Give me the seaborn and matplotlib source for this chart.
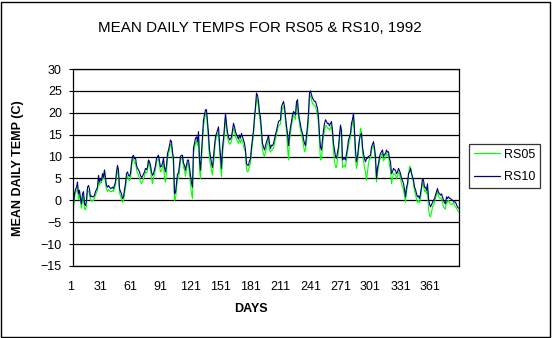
import numpy as np
import pandas as pd
import matplotlib
matplotlib.use("Agg")
import matplotlib.pyplot as plt
import seaborn as sns
from matplotlib.transforms import ScaledTranslation
from matplotlib.patches import Rectangle

# ---------------- data ----------------
rs10 = [
    -0.8, 1.5, 2.5, 3.0, 4.2, 1.5, 2.3, 0.5, -0.8, 1.5,
    2.0, -0.8, -1.2, 0.0, 3.0, 3.4, 2.5, 0.8, 1.0, 0.8,
    0.8, 1.2, 2.0, 2.5, 3.0, 5.7, 4.2, 5.0, 4.5, 6.1,
    5.3, 6.9, 5.0, 3.4, 3.0, 3.4, 3.0, 2.7, 2.8, 3.0,
    2.7, 3.5, 4.2, 6.5, 8.0, 6.9, 2.7, 2.0, 1.5, 0.4,
    0.8, 2.5, 3.8, 6.1, 6.5, 5.7, 5.5, 6.1, 8.5, 10.0,
    10.3, 9.5, 9.8, 8.0, 7.3, 7.0, 6.5, 5.7, 5.2, 5.5,
    6.0, 6.5, 7.3, 7.0, 7.5, 9.2, 8.8, 8.0, 6.5, 5.7,
    6.1, 7.0, 8.0, 9.6, 10.0, 10.3, 9.0, 7.6, 7.8, 8.5,
    9.6, 7.5, 6.5, 8.0, 10.7, 11.5, 12.5, 13.8, 13.4, 11.0,
    9.6, 1.5, 1.8, 4.0, 6.0, 6.2, 8.0, 10.0, 10.3, 10.3,
    8.5, 8.0, 6.9, 8.0, 9.2, 9.2, 7.5, 5.7, 4.0, 3.0,
    12.0, 13.0, 14.2, 14.5, 13.4, 15.7, 9.2, 6.9, 11.0, 14.5,
    18.4, 19.5, 20.7, 20.7, 18.0, 15.3, 11.5, 10.0, 8.5, 7.5,
    10.0, 12.5, 14.5, 15.3, 16.0, 16.8, 13.0, 10.0, 7.3, 12.2,
    14.0, 16.8, 19.9, 17.5, 15.5, 14.5, 13.8, 14.0, 14.5, 16.0,
    17.6, 16.8, 15.7, 15.0, 14.5, 14.0, 14.9, 14.2, 15.3, 14.5,
    13.8, 13.0, 11.5, 8.4, 8.0, 8.0, 9.0, 9.5, 12.2, 14.0,
    16.0, 19.0, 21.4, 24.5, 24.0, 22.6, 20.0, 19.0, 16.0, 13.0,
    12.2, 11.5, 12.5, 13.4, 14.0, 14.9, 13.0, 11.8, 12.6, 12.5,
    13.0, 14.0, 14.9, 16.0, 17.0, 18.0, 18.2, 18.4, 21.4, 22.0,
    22.6, 21.4, 19.1, 17.0, 15.3, 12.5, 15.0, 16.8, 18.0, 19.5,
    20.3, 20.0, 19.5, 22.5, 23.0, 20.0, 18.5, 17.2, 16.0, 15.3,
    14.0, 13.0, 12.5, 14.9, 17.0, 19.9, 24.5, 25.0, 24.1, 23.3,
    23.0, 22.6, 22.6, 21.8, 21.0, 19.0, 15.0, 12.2, 11.5, 14.0,
    16.0, 17.5, 18.4, 18.0, 17.5, 17.6, 17.0, 17.6, 18.0, 16.0,
    13.0, 11.5, 10.0, 9.6, 11.0, 12.2, 15.0, 17.2, 16.0, 9.2,
    9.5, 9.6, 9.2, 10.7, 12.0, 13.8, 14.5, 15.3, 17.6, 18.5,
    19.9, 16.0, 11.5, 8.8, 10.0, 12.2, 14.0, 15.0, 15.3, 12.2,
    10.7, 9.5, 8.8, 9.6, 9.6, 10.0, 10.2, 10.3, 12.2, 12.8,
    13.4, 12.0, 10.0, 5.0, 7.5, 8.4, 10.0, 10.7, 11.1, 11.5,
    10.0, 10.5, 10.7, 11.5, 11.0, 11.1, 9.5, 8.8, 6.1, 6.5,
    7.3, 7.0, 6.9, 6.1, 6.5, 7.3, 6.8, 6.1, 5.0, 4.5,
    3.8, 2.5, 0.8, 3.0, 3.8, 6.1, 6.5, 7.3, 6.1, 5.4,
    4.6, 3.0, 2.5, 1.5, 0.8, 1.0, 0.4, 1.5, 3.0, 5.0,
    4.6, 3.0, 3.0, 2.3, 3.8, 0.5, -0.8, -1.5, -1.0, -0.5,
    0.0, 0.4, 1.2, 2.0, 2.7, 1.8, 1.5, 1.2, 1.5, 0.8,
    0.0, -0.5, -0.8, 0.8, 0.4, 0.8, 0.5, 0.4, 0.2, 0.0,
    -0.2, -0.4, -0.4, -1.0, -1.5, -1.8,
]

rs05 = [
    -1.5, 0.5, 1.8, 2.0, 3.0, 0.2, 1.5, -0.5, -1.8, 0.5,
    1.0, -1.9, -2.2, -1.0, 2.5, 2.0, 1.5, 0.0, -0.2, 0.0,
    0.0, 0.5, 1.2, 1.8, 2.2, 4.8, 3.5, 4.2, 4.0, 5.7,
    5.0, 7.0, 4.0, 2.5, 2.0, 2.5, 2.2, 2.0, 2.0, 2.3,
    2.0, 2.8, 3.5, 5.5, 7.2, 5.5, 1.8, 1.0, 0.2, -0.4,
    -0.2, 1.5, 2.8, 5.0, 5.6, 4.8, 4.5, 5.0, 7.5, 9.2,
    9.6, 8.5, 8.6, 7.0, 6.2, 5.8, 5.0, 4.2, 3.8, 4.2,
    5.0, 5.5, 6.5, 6.2, 6.8, 9.2, 8.0, 7.0, 5.0, 3.8,
    5.0, 6.0, 7.0, 8.8, 9.2, 9.5, 8.0, 6.5, 6.8, 7.5,
    8.5, 5.0, 4.2, 6.5, 9.5, 10.5, 11.5, 12.8, 12.5, 10.0,
    8.0, 0.0, 0.4, 2.5, 4.8, 5.0, 6.8, 9.0, 9.5, 9.5,
    7.5, 7.0, 5.5, 7.0, 8.5, 8.2, 6.0, 4.0, 1.5, 0.4,
    10.5, 12.0, 13.0, 13.5, 12.5, 14.5, 7.0, 5.0, 9.5, 13.5,
    17.0, 18.5, 19.8, 19.5, 16.5, 13.5, 9.5, 8.0, 6.9, 5.8,
    8.5, 11.0, 13.5, 14.5, 15.0, 15.5, 11.5, 8.0, 5.4, 10.5,
    12.5, 15.5, 18.5, 16.5, 14.5, 13.5, 12.8, 13.0, 13.5, 15.0,
    16.5, 15.8, 14.5, 14.0, 13.5, 13.0, 14.0, 13.2, 14.0, 13.5,
    12.5, 11.5, 11.1, 7.0, 6.5, 6.8, 7.8, 8.5, 11.0, 13.0,
    15.0, 18.0, 20.5, 23.5, 22.5, 21.5, 19.0, 17.5, 14.5, 11.5,
    10.5, 10.0, 11.0, 12.0, 13.0, 13.8, 11.5, 11.0, 11.5, 11.5,
    12.0, 13.0, 14.0, 15.0, 16.0, 17.0, 17.2, 17.5, 20.0, 21.0,
    21.5, 20.5, 18.0, 15.5, 12.5, 9.2, 13.5, 15.5, 17.0, 18.5,
    19.5, 19.0, 18.5, 22.0, 22.0, 19.0, 17.5, 16.0, 15.0, 14.0,
    12.5, 11.1, 11.5, 13.5, 15.5, 18.5, 23.5, 24.0, 23.0, 22.0,
    22.0, 21.5, 21.5, 20.5, 19.5, 17.5, 13.0, 9.2, 9.5, 12.5,
    14.5, 16.0, 17.0, 17.0, 16.5, 16.5, 16.0, 16.5, 17.0, 15.0,
    11.1, 9.0, 7.6, 7.5, 9.5, 11.0, 14.0, 16.0, 15.0, 7.5,
    7.8, 8.0, 7.6, 9.5, 11.0, 12.5, 13.5, 14.5, 16.5, 17.5,
    19.0, 14.5, 9.5, 7.3, 8.5, 11.0, 13.5, 16.5, 15.5, 11.0,
    9.0, 7.5, 6.5, 4.6, 6.5, 8.5, 9.5, 9.5, 11.5, 12.0,
    12.5, 11.0, 8.5, 4.2, 6.0, 7.5, 9.0, 9.8, 10.5, 10.8,
    9.0, 9.5, 10.0, 10.8, 10.2, 10.5, 8.0, 7.0, 3.8, 5.0,
    6.2, 6.0, 6.0, 5.0, 5.5, 6.5, 6.0, 5.0, 3.8, 3.0,
    2.5, 1.0, -0.4, 2.0, 3.0, 5.5, 7.8, 7.6, 6.5, 5.0,
    4.0, 2.0, 1.5, 0.2, -0.5, 0.0, -0.5, 0.5, 2.5, 4.0,
    3.5, 2.0, 2.2, 1.5, 2.5, -2.0, -3.4, -3.8, -2.8, -1.5,
    -1.0, -0.5, 0.5, 1.2, 2.0, 1.0, 0.5, 0.5, 0.5, -0.5,
    -1.5, -1.8, -2.0, 0.0, -0.5, 0.0, -0.5, -0.8, -1.0, -0.8,
    -0.5, -1.2, -1.5, -1.8, -2.3, -2.5,
]

series_names = ["RS05", "RS10"]
series_colors = ["#00FF00", "#000080"]
x_ticks = [1, 31, 61, 91, 121, 151, 181, 211, 241, 271, 301, 331, 361]
y_ticks = [-15, -10, -5, 0, 5, 10, 15, 20, 25, 30]
title = "MEAN DAILY TEMPS FOR RS05 & RS10, 1992"
x_label = "DAYS"
y_label = "MEAN DAILY TEMP (C)"

# ---------------- build table ----------------
n = len(rs10)
days = np.arange(1, n + 1)
df = pd.DataFrame({
    "day": np.concatenate([days, days]),
    "temp": rs05 + rs10,
    "series": [series_names[0]] * n + [series_names[1]] * n,
})

sns.set_theme(style="white")
plt.rcParams["font.family"] = ["Liberation Sans", "DejaVu Sans"]

W, H = 552, 338
fig = plt.figure(figsize=(W / 100, H / 100), dpi=100)
fig.patch.set_facecolor("white")

L, R, T, B = 73, 459, 69, 266
ax = fig.add_axes([L / W, 1 - B / H, (R - L) / W, (B - T) / H])

sns.lineplot(data=df, x="day", y="temp", hue="series",
             palette=dict(zip(series_names, series_colors)),
             linewidth=0.8, ax=ax, legend=False, estimator=None)

ax.set_xlim(0.5, n + 0.5)
ax.set_ylim(-15, 30)
ax.set_yticks(y_ticks)
ax.set_xticks(x_ticks)
ax.set_xticklabels([str(v) for v in x_ticks])
ax.yaxis.grid(True, color="black", linewidth=0.9)
ax.xaxis.grid(False)
ax.set_axisbelow(True)
for s in ax.spines.values():
    s.set_color("black")
    s.set_linewidth(0.9)
    s.set_visible(True)

ax.tick_params(axis="y", which="major", length=3, width=0.8, color="black",
               labelsize=9, pad=5, left=True, labelcolor="black")
ax.tick_params(axis="x", which="major", length=0, labelsize=9, pad=11,
               labelcolor="black")
off = ScaledTranslation(-3 / 100, 0, fig.dpi_scale_trans)
for lbl in ax.get_xticklabels():
    lbl.set_transform(lbl.get_transform() + off)

ax.set_xlabel("")
ax.set_ylabel("")

fig.text(260 / W, 1 - 28 / H, title, ha="center", va="center",
         fontsize=10.9, fontweight="normal", color="black")
fig.text(251 / W, 1 - 309 / H, x_label, ha="center", va="center",
         fontsize=9, fontweight="bold", color="black")
fig.text(18 / W, 1 - 168 / H, y_label, ha="center", va="center",
         rotation=90, fontsize=9, fontweight="bold", color="black")

handles = [plt.Line2D([], [], color=c, linewidth=0.9) for c in series_colors]
leg = ax.legend(handles, series_names, loc="center left",
                bbox_to_anchor=(469 / W, 1 - 166 / H),
                bbox_transform=fig.transFigure, frameon=True, fancybox=False,
                edgecolor="black", fontsize=9, handlelength=2.1,
                handletextpad=0.3, labelspacing=0.85, borderpad=0.4,
                borderaxespad=0)
leg.get_frame().set_linewidth(0.9)
for t in leg.get_texts():
    t.set_color("black")

fig.patches.append(Rectangle((0.5 / W, 1.5 / H), (W - 3) / W, (H - 3) / H,
                             transform=fig.transFigure, fill=False,
                             edgecolor="black", linewidth=1.0))

fig.savefig("out.png", dpi=100, facecolor="white")
